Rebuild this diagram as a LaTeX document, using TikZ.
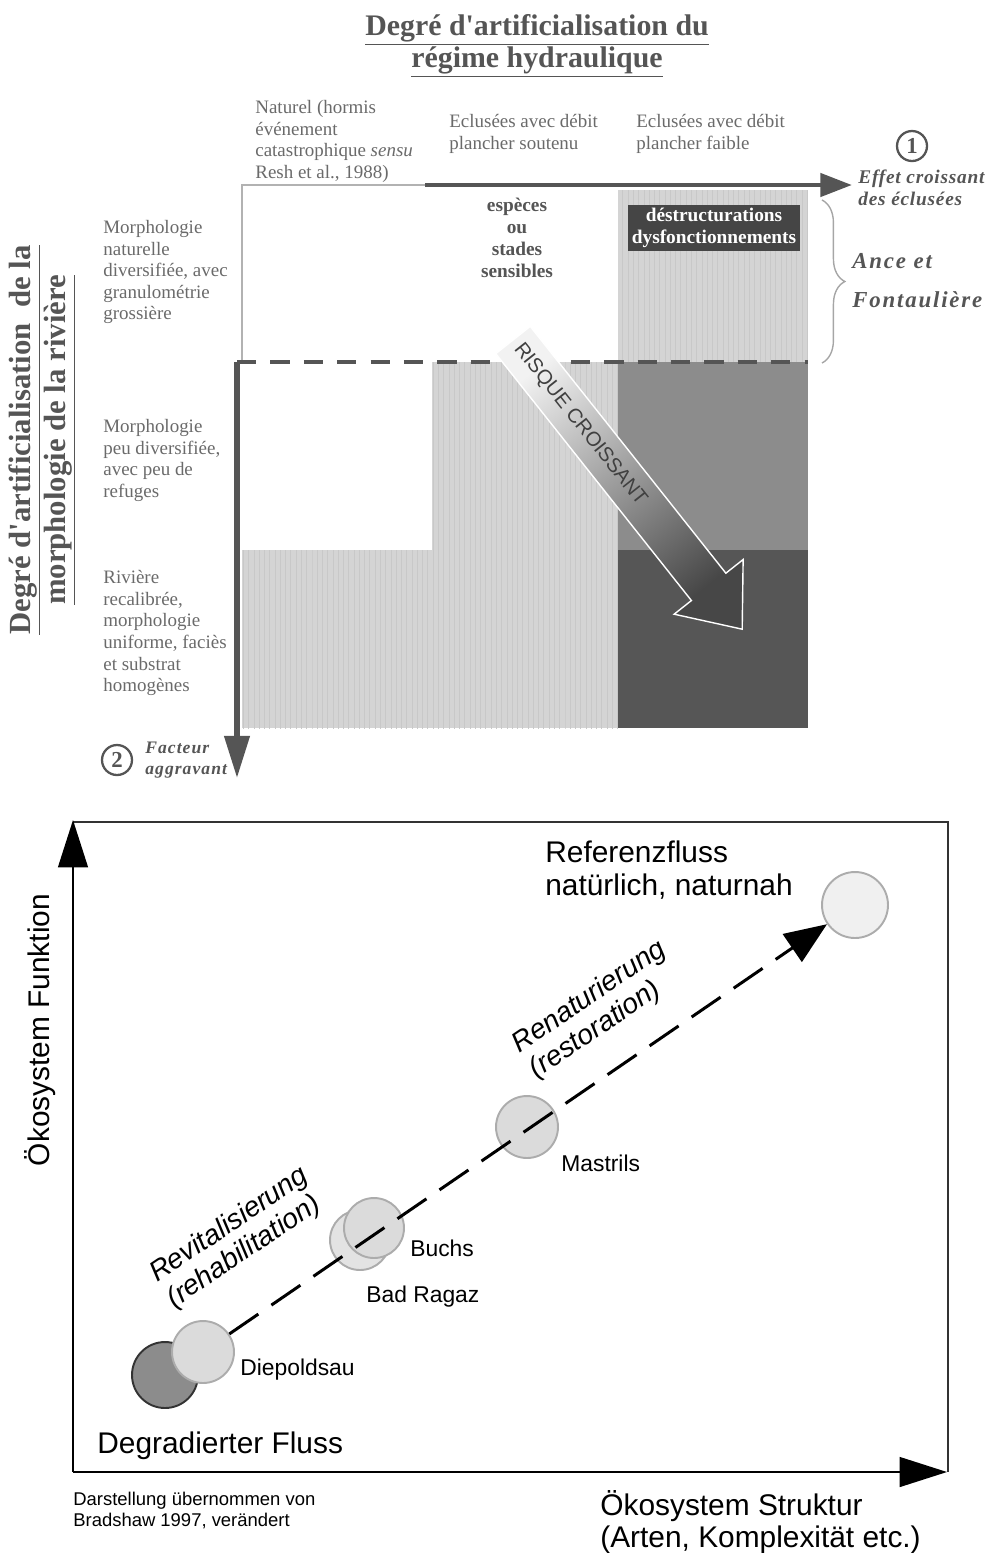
\documentclass[tikz,border=0pt]{standalone}
\usepackage{fontspec}
\setmainfont{Liberation Serif}
\setsansfont{Liberation Sans}
\usepackage{tikz}
\usetikzlibrary{positioning,calc,patterns,arrows.meta,decorations.pathreplacing}

\definecolor{inkgray}{HTML}{555555}
\definecolor{textgray}{HTML}{6A6A6A}
\definecolor{hatchgray}{HTML}{D4D4D4}
\definecolor{stripegray}{HTML}{C8C8C8}
\definecolor{midcell}{HTML}{8C8C8C}
\definecolor{darkcell}{HTML}{565656}
\definecolor{boxgray}{HTML}{454545}
\newcommand{\apos}{\textquotesingle}

\begin{document}
\begin{tikzpicture}[x=0.02cm, y=-0.02cm,
    serif/.style={font=\fontsize{10.8}{12.3}\selectfont, text=textgray, align=left, inner sep=0pt, anchor=north west},
    boldit/.style={font=\bfseries\itshape\fontsize{11}{12.5}\selectfont\addfontfeature{LetterSpace=4}, text=inkgray, align=left, inner sep=0pt, anchor=north west},
    hatch/.style={fill=hatchgray, postaction={pattern=vertical lines, pattern color=stripegray}},
    numbered/.style={circle, draw=inkgray, line width=1.3pt, minimum size=0.6cm, inner sep=0pt, font=\bfseries\fontsize{13}{13}\selectfont, text=inkgray},
    site/.style={circle, draw=gray!65, line width=1.1pt, inner sep=0pt, minimum size=1.24cm, fill=gray!28},
    sitelbl/.style={font=\sffamily\fontsize{13}{15}\selectfont, anchor=base west, inner sep=0pt},
    biglbl/.style={font=\sffamily\fontsize{17}{19.3}\selectfont, align=left, inner sep=0pt},
    axis/.style={line width=1.1pt, -{Triangle[length=27pt,width=17pt]}}]
\useasboundingbox (0,0) rectangle (992,1553);

% ---------- top diagram ----------
% Titles
\node[font=\bfseries\fontsize{17}{17}\selectfont, text=inkgray, align=center] (title) at (537,46)
    {\underline{Degré d\apos artificialisation du}\\\underline{régime hydraulique}};
\node[rotate=90, font=\bfseries\fontsize{17.5}{20}\selectfont, text=inkgray, align=center] (morphtitle) at (42,440)
    {\underline{Degré d\apos artificialisation\ \ de la}\\\underline{morphologie de la rivière}};

% Column headers
\node[serif] (natural) at (255,100) {Naturel (hormis\\événement\\catastrophique \textit{sensu}\\Resh et al., 1988)};
\node[serif] (steady) at (449,114) {Eclusées avec débit\\plancher soutenu};
\node[serif] (weak) at (636,114) {Eclusées avec débit\\plancher faible};

% Row headers
\node[serif] (rowone) at (103,220) {Morphologie\\naturelle\\diversifiée, avec\\granulométrie\\grossière};
\node[serif] (rowtwo) at (103,419) {Morphologie\\peu diversifiée,\\avec peu de\\refuges};
\node[serif] (rowthree) at (103,570) {Rivière\\recalibrée,\\morphologie\\uniforme, faciès\\et substrat\\homogènes};

% Cells
\fill[hatch] (618,190) rectangle (808,362);
\fill[hatch] (432,362) rectangle (618,550);
\fill[hatch] (242,550) rectangle (618,728);
\fill[midcell] (618,362) rectangle (808,550);
\fill[darkcell] (618,550) rectangle (808,728);

% Cell labels
\node[font=\bfseries\fontsize{11}{12.5}\selectfont, text=inkgray, align=center] (sensible) at (517,238)
    {espèces\\ou\\stades\\sensibles};
\node[fill=boxgray, text=white, font=\bfseries\fontsize{11}{12.5}\selectfont, align=center,
      minimum width=3.44cm, inner sep=2pt] (damage) at (714,228) {déstructurations\\dysfonctionnements};

% Axes of the top diagram
\coordinate (corner) at (242,185);
\coordinate (cornerlow) at (242,362);
\coordinate (hstart) at (425,185);
\coordinate (hend) at (852,185);
\coordinate (vstart) at (237,362);
\coordinate (vend) at (237,778);
\coordinate (dashend) at (808,362);
\draw[gray!60, line width=0.6pt] (cornerlow) -- (corner) -- (hstart);
\draw[inkgray, line width=2.3pt, dash pattern=on 11pt off 8pt] (vstart) -- (dashend);
\draw[inkgray, line width=2.8pt, -{Triangle[length=18pt,width=13pt]}] (hstart) -- (hend);
\draw[inkgray, line width=3.2pt, -{Triangle[length=24pt,width=14pt]}] (vstart) -- (vend);

% Risk arrow
\begin{scope}[shift={(513,340)}, rotate=-51.6]
    \shade[top color=gray!10, bottom color=black!72, shading angle=38.4, draw=white, line width=0.8pt]
        (0,-22) -- (315,-22) -- (315,-44) -- (369,0) -- (315,44) -- (315,22) -- (0,22) -- cycle;
    \node[transform shape, font=\sffamily\fontsize{11.5}{13}\selectfont, text=black!75] (risk) at (108,0) {RISQUE CROISSANT};
\end{scope}

% Markers and side labels
\node[numbered] (one) at (912,146) {1};
\node[boldit] (effect) at (858,170) {Effet croissant\\des éclusées};
\coordinate (bracetop) at (822,200);
\coordinate (bracebot) at (822,363);
\draw[gray!70, line width=0.8pt, decorate, decoration={brace, amplitude=13pt}] (bracetop) -- (bracebot);
\node[boldit, font=\bfseries\itshape\fontsize{13}{22}\selectfont\addfontfeature{LetterSpace=8}] (ance) at (852,253) {Ance et\\Fontaulière};
\node[numbered] (two) at (117,760) {2};
\node[boldit, font=\bfseries\itshape\fontsize{10}{11.5}\selectfont\addfontfeature{LetterSpace=6}] (factor) at (145,742) {Facteur\\aggravant};

% ---------- bottom diagram ----------
\coordinate (orig) at (73,1472);
\coordinate (ytip) at (73,820);
\coordinate (xtip) at (947,1472);
\coordinate (frametl) at (73,822);
\coordinate (frametr) at (948,822);
\coordinate (framebr) at (948,1472);
\draw[black!80, line width=0.8pt] (frametl) -- (frametr) -- (framebr);
\draw[axis] (orig) -- (ytip);
\draw[axis] (orig) -- (xtip);

% Sites
\node[site, minimum size=1.32cm, fill=gray!12] (ref) at (855,905) {};
\node[site] (mastrils) at (527,1127) {};
\node[site, minimum size=1.2cm, fill=gray!22] (ragaz) at (360,1240) {};
\node[site, minimum size=1.2cm] (buchs) at (374,1228) {};
\node[site, minimum size=1.32cm, fill=gray!90, draw=black!80] (degraded) at (165,1375) {};
\node[site] (diepold) at (203,1352) {};
\draw[line width=1.7pt, dash pattern=on 20pt off 9pt, -{Triangle[length=24pt,width=19pt]}] (diepold) -- (ref);

% Labels
\node[biglbl, anchor=north west] (reflbl) at (545,840) {Referenzfluss\\natürlich, naturnah};
\node[sitelbl] (mastrilslbl) at (561,1171) {Mastrils};
\node[sitelbl] (buchslbl) at (410,1256) {Buchs};
\node[sitelbl] (ragazlbl) at (366,1302) {Bad Ragaz};
\node[sitelbl] (diepoldlbl) at (240,1375) {Diepoldsau};
\node[biglbl, anchor=base west] (degradedlbl) at (97,1453) {Degradierter Fluss};
\node[font=\sffamily\itshape\fontsize{16}{17.5}\selectfont, align=left, rotate=34] (restor) at (598,1010) {Renaturierung\\(restoration)};
\node[font=\sffamily\itshape\fontsize{16}{17.5}\selectfont, align=left, rotate=34] (rehab) at (238,1238) {Revitalisierung\\(rehabilitation)};
\node[biglbl, rotate=90] (funktion) at (40,1030) {Ökosystem Funktion};
\node[biglbl, anchor=north west, font=\sffamily\fontsize{17}{18.3}\selectfont] (struktur) at (600,1490) {Ökosystem Struktur\\(Arten, Komplexität etc.)};
\node[font=\sffamily\fontsize{10.5}{12}\selectfont, align=left, inner sep=0pt, anchor=north west] (source) at (73,1492)
    {Darstellung übernommen von\\Bradshaw 1997, verändert};
\end{tikzpicture}
\end{document}
